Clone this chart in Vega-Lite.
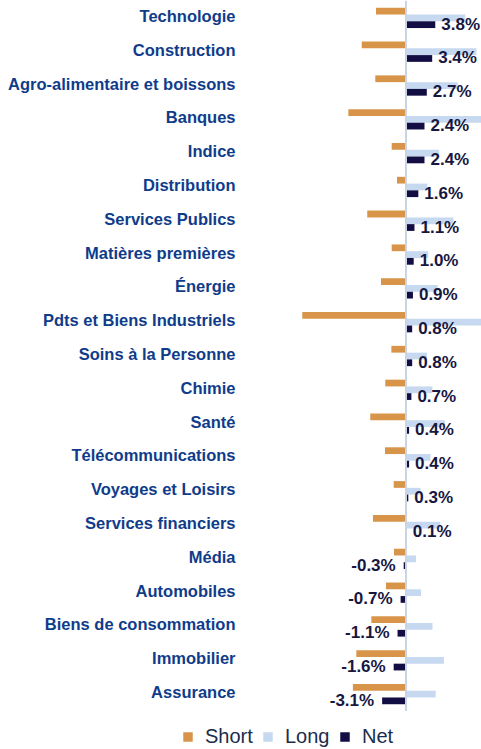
{
  "$schema": "https://vega.github.io/schema/vega-lite/v6.json",
  "autosize": "none",
  "width": 241,
  "height": 710,
  "padding": {"left": 240, "top": 1, "right": 0, "bottom": 38},
  "background": "white",
  "config": {"view": {"stroke": null}, "font": "Liberation Sans"},
  "data": {"values": [
    {"cat": "Technologie", "series": "Short", "value": -3.9},
    {"cat": "Technologie", "series": "Long", "value": 7.7},
    {"cat": "Technologie", "series": "Net", "value": 3.8, "label": "3.8%"},
    {"cat": "Construction", "series": "Short", "value": -5.75},
    {"cat": "Construction", "series": "Long", "value": 9.15},
    {"cat": "Construction", "series": "Net", "value": 3.4, "label": "3.4%"},
    {"cat": "Agro-alimentaire et boissons", "series": "Short", "value": -3.99},
    {"cat": "Agro-alimentaire et boissons", "series": "Long", "value": 6.7},
    {"cat": "Agro-alimentaire et boissons", "series": "Net", "value": 2.7, "label": "2.7%"},
    {"cat": "Banques", "series": "Short", "value": -7.49},
    {"cat": "Banques", "series": "Long", "value": 9.9},
    {"cat": "Banques", "series": "Net", "value": 2.4, "label": "2.4%"},
    {"cat": "Indice", "series": "Short", "value": -1.86},
    {"cat": "Indice", "series": "Long", "value": 4.3},
    {"cat": "Indice", "series": "Net", "value": 2.4, "label": "2.4%"},
    {"cat": "Distribution", "series": "Short", "value": -1.17},
    {"cat": "Distribution", "series": "Long", "value": 2.77},
    {"cat": "Distribution", "series": "Net", "value": 1.6, "label": "1.6%"},
    {"cat": "Services Publics", "series": "Short", "value": -5.03},
    {"cat": "Services Publics", "series": "Long", "value": 6.14},
    {"cat": "Services Publics", "series": "Net", "value": 1.1, "label": "1.1%"},
    {"cat": "Matières premières", "series": "Short", "value": -1.86},
    {"cat": "Matières premières", "series": "Long", "value": 2.88},
    {"cat": "Matières premières", "series": "Net", "value": 1.0, "label": "1.0%"},
    {"cat": "Énergie", "series": "Short", "value": -3.25},
    {"cat": "Énergie", "series": "Long", "value": 4.12},
    {"cat": "Énergie", "series": "Net", "value": 0.9, "label": "0.9%"},
    {"cat": "Pdts et Biens Industriels", "series": "Short", "value": -13.47},
    {"cat": "Pdts et Biens Industriels", "series": "Long", "value": 14.27},
    {"cat": "Pdts et Biens Industriels", "series": "Net", "value": 0.8, "label": "0.8%"},
    {"cat": "Soins à la Personne", "series": "Short", "value": -1.9},
    {"cat": "Soins à la Personne", "series": "Long", "value": 2.73},
    {"cat": "Soins à la Personne", "series": "Net", "value": 0.8, "label": "0.8%"},
    {"cat": "Chimie", "series": "Short", "value": -2.69},
    {"cat": "Chimie", "series": "Long", "value": 3.42},
    {"cat": "Chimie", "series": "Net", "value": 0.7, "label": "0.7%"},
    {"cat": "Santé", "series": "Short", "value": -4.64},
    {"cat": "Santé", "series": "Long", "value": 5.06},
    {"cat": "Santé", "series": "Net", "value": 0.4, "label": "0.4%"},
    {"cat": "Télécommunications", "series": "Short", "value": -2.73},
    {"cat": "Télécommunications", "series": "Long", "value": 3.18},
    {"cat": "Télécommunications", "series": "Net", "value": 0.4, "label": "0.4%"},
    {"cat": "Voyages et Loisirs", "series": "Short", "value": -1.6},
    {"cat": "Voyages et Loisirs", "series": "Long", "value": 1.9},
    {"cat": "Voyages et Loisirs", "series": "Net", "value": 0.3, "label": "0.3%"},
    {"cat": "Services financiers", "series": "Short", "value": -4.29},
    {"cat": "Services financiers", "series": "Long", "value": 4.45},
    {"cat": "Services financiers", "series": "Net", "value": 0.1, "label": "0.1%"},
    {"cat": "Média", "series": "Short", "value": -1.56},
    {"cat": "Média", "series": "Long", "value": 1.3},
    {"cat": "Média", "series": "Net", "value": -0.3, "label": "-0.3%"},
    {"cat": "Automobiles", "series": "Short", "value": -2.6},
    {"cat": "Automobiles", "series": "Long", "value": 1.95},
    {"cat": "Automobiles", "series": "Net", "value": -0.7, "label": "-0.7%"},
    {"cat": "Biens de consommation", "series": "Short", "value": -4.5},
    {"cat": "Biens de consommation", "series": "Long", "value": 3.44},
    {"cat": "Biens de consommation", "series": "Net", "value": -1.1, "label": "-1.1%"},
    {"cat": "Immobilier", "series": "Short", "value": -6.45},
    {"cat": "Immobilier", "series": "Long", "value": 4.92},
    {"cat": "Immobilier", "series": "Net", "value": -1.6, "label": "-1.6%"},
    {"cat": "Assurance", "series": "Short", "value": -6.9},
    {"cat": "Assurance", "series": "Long", "value": 3.85},
    {"cat": "Assurance", "series": "Net", "value": -3.1, "label": "-3.1%"}
  ]},
  "encoding": {
    "y": {
      "field": "cat", "type": "nominal", "sort": null,
      "scale": {"paddingInner": 0.4, "paddingOuter": 0.2},
      "axis": {
        "title": null, "domain": false, "ticks": false, "labelPadding": 5,
        "labelFont": "Liberation Sans", "labelFontSize": 16.5, "labelFontWeight": "bold",
        "labelColor": "#0f3c8a", "labelLimit": 400, "labelOffset": -1
      }
    },
    "yOffset": {"field": "series", "type": "nominal", "sort": ["Short", "Long", "Net"], "scale": {"paddingInner": 0}}
  },
  "layer": [
    {
      "mark": {"type": "bar", "clip": true},
      "encoding": {
        "x": {"field": "value", "type": "quantitative", "scale": {"domain": [-21.56, 9.74], "nice": false, "zero": false}, "axis": null},
        "color": {
          "field": "series", "type": "nominal",
          "scale": {"domain": ["Short", "Long", "Net"], "range": ["#d8954a", "#c6d9f1", "#120d42"]},
          "legend": {
            "title": null, "orient": "none", "direction": "horizontal",
            "legendX": -62, "legendY": 726,
            "symbolType": "square", "symbolSize": 90, "symbolStrokeWidth": 0,
            "labelFont": "Liberation Sans", "labelFontSize": 20, "labelColor": "#1b2d4b",
            "labelOffset": 7, "columnPadding": 5, "padding": 0
          }
        }
      }
    },
    {
      "mark": {"type": "rule", "color": "#c9d3e4", "strokeWidth": 1.5},
      "encoding": {"x": {"datum": 0, "type": "quantitative"}, "y": null, "yOffset": null}
    },
    {
      "transform": [{"filter": "datum.series === 'Net' && datum.value >= 0"}],
      "mark": {"type": "text", "align": "left", "baseline": "middle", "dx": 6, "dy": 0, "fontSize": 17, "fontWeight": "bold", "color": "#17173f", "font": "Liberation Sans"},
      "encoding": {
        "x": {"field": "value", "type": "quantitative"},
        "text": {"field": "label", "type": "nominal"}
      }
    },
    {
      "transform": [{"filter": "datum.series === 'Net' && datum.value < 0"}],
      "mark": {"type": "text", "align": "right", "baseline": "middle", "dx": -8, "dy": 0, "fontSize": 17, "fontWeight": "bold", "color": "#17173f", "font": "Liberation Sans"},
      "encoding": {
        "x": {"field": "value", "type": "quantitative"},
        "text": {"field": "label", "type": "nominal"}
      }
    }
  ]
}
